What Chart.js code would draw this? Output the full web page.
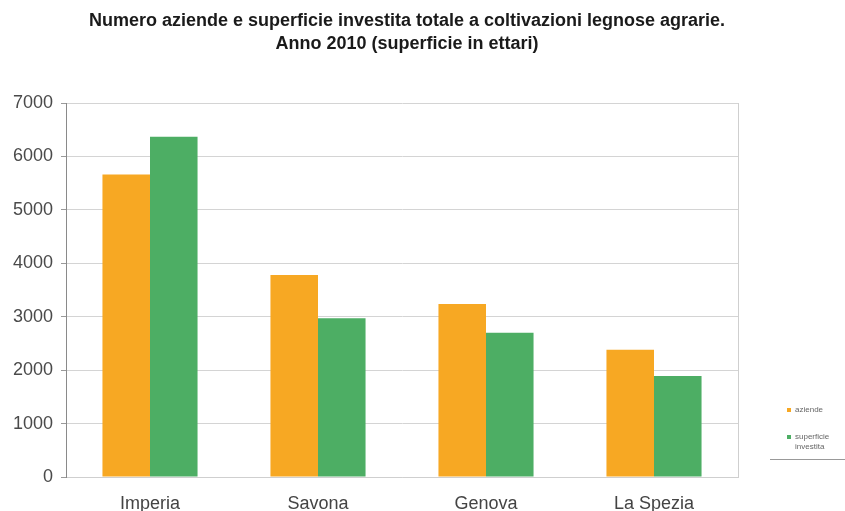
<!DOCTYPE html>
<html>
<head>
<meta charset="utf-8">
<script src="https://cdn.jsdelivr.net/npm/chart.js@4/dist/chart.umd.min.js"></script>
<style>
  html, body { margin: 0; padding: 0; background: #fff; }
  #wrap { position: relative; width: 845px; height: 511px; }
  #legend { position: absolute; left: 770px; top: 405px; width: 75px;
            font: 8px/10px 'Liberation Sans', Arial, sans-serif; color: #666;
            border-bottom: 1px solid #999; padding-bottom: 7px; }
  #legend .item { display: flex; align-items: flex-start; margin: 0 0 17px 17px; }
  #legend .item:last-child { margin-bottom: 0; }
  #legend .sw { width: 4px; height: 4px; margin: 3px 4px 0 0; flex: none; }
</style>
</head>
<body>
<div id="wrap">
  <canvas id="chart" width="845" height="511"></canvas>
  <div id="legend"></div>
</div>
<script>
// data
const titleLines = ['Numero aziende e superficie investita totale a coltivazioni legnose agrarie.',
                    'Anno 2010 (superficie in ettari)'];
const provinces = ['Imperia', 'Savona', 'Genova', 'La Spezia'];
const seriesNames = ['aziende', 'superficie investita'];
const aziende = [5660, 3780, 3240, 2380];
const superficie = [6370, 2970, 2700, 1890];
const yTicks = [0, 1000, 2000, 3000, 4000, 5000, 6000, 7000];

const colors = ['#F7A823', '#4DAE64'];
const font = "'Liberation Sans', Arial, sans-serif";

/* ---------- title centred over the plot area ---------- */
const titlePlugin = {
    id: 'centerTitle',
    afterDraw(chart) {
        const { ctx, chartArea } = chart;
        const cx = (chartArea.left + chartArea.right) / 2 + 5;
        ctx.save();
        ctx.font = 'bold 18px ' + font;
        ctx.fillStyle = '#1a1a1a';
        ctx.textAlign = 'center';
        ctx.textBaseline = 'middle';
        ctx.fillText(titleLines[0], cx, 21);
        ctx.fillText(titleLines[1], cx, 44);
        ctx.restore();
    }
};

new Chart(document.getElementById('chart'), {
    type: 'bar',
    data: {
        labels: provinces,
        datasets: [
            { label: seriesNames[0], data: aziende, backgroundColor: colors[0] },
            { label: seriesNames[1], data: superficie, backgroundColor: colors[1] }
        ]
    },
    options: {
        responsive: false,
        animation: false,
        categoryPercentage: 0.566,
        barPercentage: 1,
        layout: { padding: { top: 103, right: 107, left: 0, bottom: 0 } },
        plugins: {
            legend: { display: false },
            title: { display: false },
            tooltip: { enabled: false }
        },
        scales: {
            x: {
                afterFit: s => { s.height = 34; },
                grid: {
                    drawTicks: false,
                    color: c => (c.index === undefined ? '#cfcfcf' : 'transparent')
                },
                border: { color: '#cfcfcf' },
                ticks: {
                    padding: 16,
                    color: '#444',
                    font: { family: font, size: 18 }
                }
            },
            y: {
                min: 0,
                max: yTicks[yTicks.length - 1],
                afterFit: s => { s.width = 66; },
                afterBuildTicks: s => { s.ticks = yTicks.map(v => ({ value: v })); },
                grid: { color: '#d4d4d4', tickLength: 5, tickColor: '#9a9a9a' },
                border: { color: '#8a8a8a' },
                ticks: {
                    padding: 8,
                    color: '#4a4a4a',
                    font: { family: font, size: 18 },
                    callback: v => String(v)
                }
            }
        }
    },
    plugins: [titlePlugin]
});

/* ---------- small legend bottom right ---------- */
const legend = document.getElementById('legend');
seriesNames.forEach((name, i) => {
    const item = document.createElement('div');
    item.className = 'item';
    item.innerHTML = '<span class="sw" style="background:' + colors[i] + '"></span><span>' + name + '</span>';
    legend.appendChild(item);
});
</script>
</body>
</html>
